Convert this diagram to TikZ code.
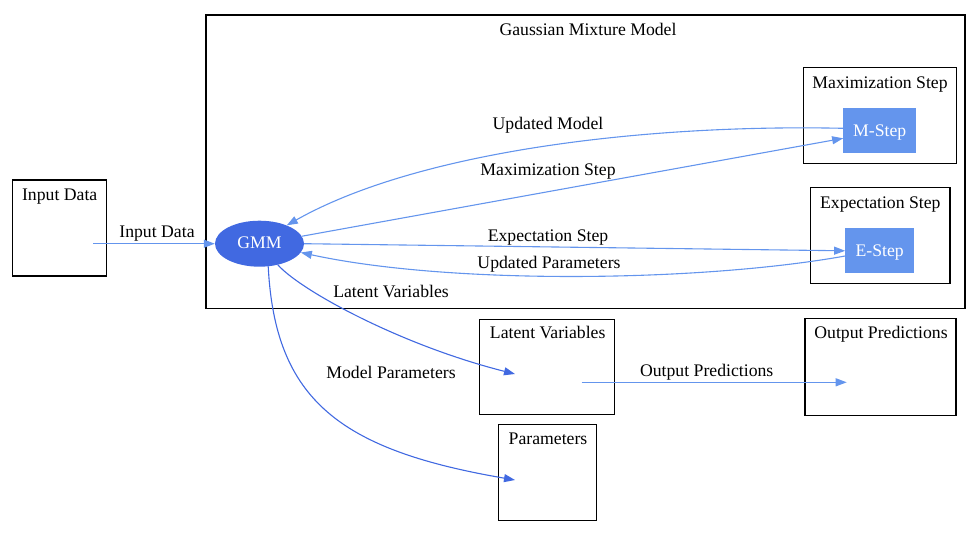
\documentclass[tikz,border=0pt]{standalone}
\usepackage{fontspec}
\setmainfont{Liberation Serif}
\usetikzlibrary{arrows.meta,shapes.geometric}
\definecolor{cfblue}{HTML}{6495ED}
\definecolor{rblue}{HTML}{4169E1}
\begin{document}
\begin{tikzpicture}[x=1pt,y=-1pt,
  font=\fontsize{17.7}{20}\selectfont,
  box/.style={draw=black, line width=1.1pt, rectangle, inner sep=0pt},
  stepbox/.style={fill=cfblue, draw=none, rectangle, inner sep=0pt, text=white},
  ttl/.style={anchor=base, inner sep=0pt},
  lbl/.style={anchor=base, inner sep=0pt},
  flow/.style={draw=cfblue, line width=1.1pt, -{Triangle[length=11pt,width=8pt]}},
  darkflow/.style={draw=rblue, line width=1.1pt, -{Triangle[length=11pt,width=8pt]}}]
\useasboundingbox (0,0) rectangle (971,536);

% clusters and boxes
\node[box, minimum width=759pt, minimum height=293.5pt] (gmmcl) at (585.5,161.75) {};
\node[ttl] (gmmttl) at (588,35) {Gaussian Mixture Model};
\node[box, minimum width=152.7pt, minimum height=96pt] (maxcl) at (879.7,115.3) {};
\node[ttl] (maxttl) at (880,88.3) {Maximization Step};
\node[stepbox, minimum width=72.7pt, minimum height=45pt] (mstep) at (879.7,130.8) {};
\node[ttl, text=white] (msteptxt) at (879.7,136.7) {M-Step};
\node[box, minimum width=139.3pt, minimum height=96pt] (expcl) at (880.3,235.3) {};
\node[ttl] (expttl) at (880.3,208.3) {Expectation Step};
\node[stepbox, minimum width=68.7pt, minimum height=45pt] (estep) at (879.7,250.8) {};
\node[ttl, text=white] (esteptxt) at (879.7,256.7) {E-Step};

\node[box, minimum width=94pt, minimum height=96pt] (inbox) at (59.7,228) {};
\node[ttl] (inttl) at (59.7,200) {Input Data};
\node[box, minimum width=135pt, minimum height=95.3pt] (latbox) at (546.8,366.7) {};
\node[ttl] (latttl) at (547.7,338.3) {Latent Variables};
\node[box, minimum width=151pt, minimum height=96.7pt] (outbox) at (880.5,366.7) {};
\node[ttl] (outttl) at (881,338.3) {Output Predictions};
\node[box, minimum width=97.7pt, minimum height=96pt] (parbox) at (547.2,472.7) {};
\node[ttl] (parttl) at (548,444.3) {Parameters};

% GMM node
\node[ellipse, fill=rblue, draw=none, minimum width=89pt, minimum height=46pt, inner sep=0pt] (gmm) at (259.5,243.7) {};
\node[ttl, text=white] (gmmtxt) at (259.5,248.3) {GMM};

% invisible endpoints
\coordinate (inpt) at (93,243.7);
\coordinate (latin) at (515,374);
\coordinate (latout) at (581.7,382.3);
\coordinate (parin) at (515,480);
\coordinate (outin) at (846.7,382.3);

% edges
\draw[flow] (inpt) -- (gmm.west);
\node[lbl] (l1) at (157,237.7) {Input Data};

\draw[flow] (gmm.10) -- ([yshift=-7.5pt]mstep.west);
\node[lbl] (l2) at (548,175) {Maximization Step};

\draw[flow] ([yshift=2.5pt]mstep.west) .. controls (650,124) and (420,150) .. (gmm.34);
\node[lbl] (l3) at (548,129.3) {Updated Model};

\draw[flow] (gmm.0) -- (estep.west);
\node[lbl] (l4) at (548,241.7) {Expectation Step};

\draw[flow] ([yshift=-5.2pt]estep.west) .. controls (700,282) and (450,285) .. (gmm.-12);
\node[lbl] (l5) at (549,268.3) {Updated Parameters};

\draw[darkflow] (gmm.-49) .. controls (300,290) and (400,345) .. (latin);
\node[lbl] (l6) at (391,297.3) {Latent Variables};

\draw[darkflow] (gmm.-69) .. controls (275,400) and (340,450) .. (parin);
\node[lbl] (l7) at (391,378.3) {Model Parameters};

\draw[flow] (latout) -- (outin);
\node[lbl] (l8) at (706.7,376.7) {Output Predictions};
\end{tikzpicture}
\end{document}
